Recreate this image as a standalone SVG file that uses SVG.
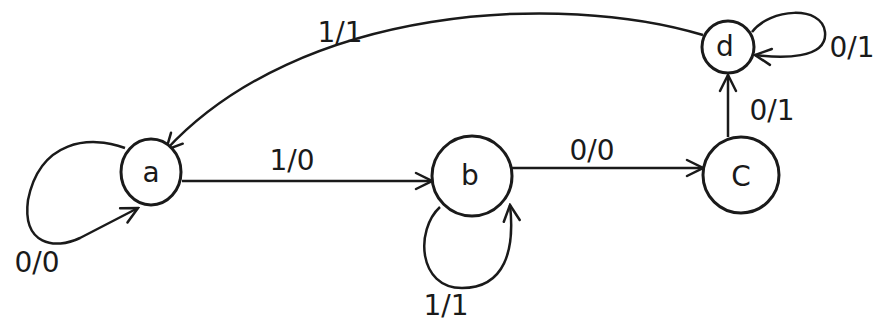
<svg xmlns="http://www.w3.org/2000/svg" width="883" height="324" viewBox="0 0 883 324">
<defs>
<marker id="arr" viewBox="0 0 20 20" refX="18" refY="10" markerWidth="20" markerHeight="20" markerUnits="userSpaceOnUse" orient="auto">
<path d="M2,2 L18,10 L2,18" fill="none" stroke="#1a1a1a" stroke-width="2.5" stroke-linecap="round"/>
</marker>
<style>
.n{fill:#fff;stroke:#1a1a1a;stroke-width:3}
.e{fill:none;stroke:#1a1a1a;stroke-width:2.5;marker-end:url(#arr)}
.t{font-family:"DejaVu Sans",sans-serif;font-size:28px;fill:#1a1a1a;text-anchor:middle}
.l{font-family:"DejaVu Sans",sans-serif;font-size:28px;fill:#1a1a1a;text-anchor:middle}
</style>
</defs>
<rect width="883" height="324" fill="#fff"/>
<g id="edges">
<path class="e" d="M125,148 C90,135 40,140 28,200 C22,245 55,250 80,238 L138,208"/>
<path class="e" d="M182,181 L432,181"/>
<path class="e" d="M512,168 L703,168"/>
<path class="e" d="M440,207 C415,230 418,288 462,288 C505,288 515,250 510,205"/>
<path class="e" d="M728,137 L728,75"/>
<path class="e" d="M752,32 C770,8 822,5 825,32 C828,60 780,58 755,55"/>
<path class="e" d="M703,35 C560,-8 300,5 166,150"/>
</g>
<g id="node-a"><ellipse class="n" cx="151" cy="172" rx="30" ry="33"/><text class="t" x="151" y="182">a</text></g>
<g id="node-b"><circle class="n" cx="472" cy="176" r="40"/><text class="t" x="470" y="185">b</text></g>
<g id="node-c"><circle class="n" cx="741" cy="175" r="38"/><text class="t" x="741" y="186">C</text></g>
<g id="node-d"><circle class="n" cx="728" cy="47" r="26"/><text class="t" x="725" y="56">d</text></g>
<g id="labels">
<text class="l" x="37" y="272">0/0</text>
<text class="l" x="292" y="170">1/0</text>
<text class="l" x="592" y="160">0/0</text>
<text class="l" x="446" y="315">1/1</text>
<text class="l" x="772" y="120">0/1</text>
<text class="l" x="852" y="57">0/1</text>
<text class="l" x="340" y="42">1/1</text>
</g>
</svg>
